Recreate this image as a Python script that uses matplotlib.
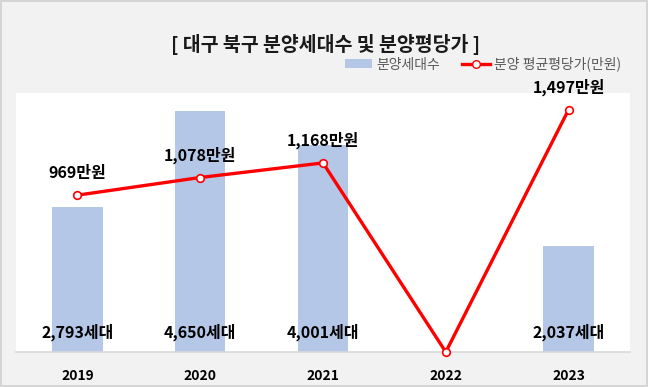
#!/usr/bin/env python3

import matplotlib
matplotlib.use("Agg")
import matplotlib.pyplot as plt
from matplotlib.lines import Line2D
from matplotlib.patches import Patch, Rectangle

plt.rcParams["font.family"] = ["Noto Sans CJK KR", "DejaVu Sans"]

years = ["2019", "2020", "2021", "2022", "2023"]
units = [2793, 4650, 4001, 0, 2037]
prices = [969, 1078, 1168, 0, 1497]

BAR_COLOR = "#b4c7e7"
LINE_COLOR = "#ff0000"


def main():
    fig = plt.figure(figsize=(6.48, 3.87), dpi=100, facecolor="#f2f2f2")
    fig.patches.append(
        Rectangle((0.002, 0.003), 0.996, 0.994, transform=fig.transFigure,
                  fill=False, edgecolor="#d0d0d0", linewidth=1.2)
    )

    ax = fig.add_axes([0.0247, 0.0904, 0.9475, 0.6693])
    ax.set_facecolor("white")
    x = list(range(len(years)))
    ax.bar(x, units, width=0.41, color=BAR_COLOR, zorder=2)
    ax.set_xlim(-0.5, len(years) - 0.5)
    ax.set_ylim(0, 5000)
    ax.set_yticks([])
    ax.set_xticks(x, labels=years, fontsize=10, fontweight="bold")
    ax.tick_params(axis="x", length=0, pad=12)
    for s in ["top", "left", "right"]:
        ax.spines[s].set_visible(False)
    ax.spines["bottom"].set_color("#d9d9d9")
    ax.spines["bottom"].set_linewidth(1.2)

    for xi, v in zip(x, units):
        if v > 0:
            ax.annotate(f"{v:,}세대", (xi, 0), xytext=(0, 14),
                        textcoords="offset points", ha="center", va="center",
                        fontsize=11.5, fontweight="bold", zorder=5)

    ax2 = ax.twinx()
    ax2.plot(x, prices, color=LINE_COLOR, linewidth=2.4, marker="o",
             markersize=5.5, markerfacecolor="white",
             markeredgecolor=LINE_COLOR, markeredgewidth=1.2, zorder=4,
             clip_on=False)
    ax2.set_ylim(0, 1600)
    ax2.set_yticks([])
    for s in ax2.spines.values():
        s.set_visible(False)

    for xi, v in zip(x, prices):
        if v > 0:
            ax2.annotate(f"{v:,}만원", (xi, v), xytext=(0, 16),
                         textcoords="offset points", ha="center",
                         va="center", fontsize=11.5, fontweight="bold",
                         annotation_clip=False)

    fig.text(0.503, 0.884, "[ 대구 북구 분양세대수 및 분양평당가 ]",
             ha="center", va="center", fontsize=14, fontweight="bold",
             color="#1a1a1a")

    handles = [
        Patch(facecolor=BAR_COLOR, edgecolor="none"),
        Line2D([0], [0], color=LINE_COLOR, linewidth=2.4, marker="o",
               markersize=5.5, markerfacecolor="white",
               markeredgecolor=LINE_COLOR),
    ]
    fig.legend(handles, ["분양세대수", "분양 평균평당가(만원)"],
               loc="center right", bbox_to_anchor=(0.972, 0.834), ncol=2,
               frameon=False, labelcolor="#595959",
               prop={"size": 10, "weight": "medium"},
               handlelength=2.0, handleheight=0.6, columnspacing=1.6,
               handletextpad=0.3, borderpad=0.1)

    fig.savefig("out.png", dpi=100, facecolor=fig.get_facecolor())


if __name__ == "__main__":
    main()
